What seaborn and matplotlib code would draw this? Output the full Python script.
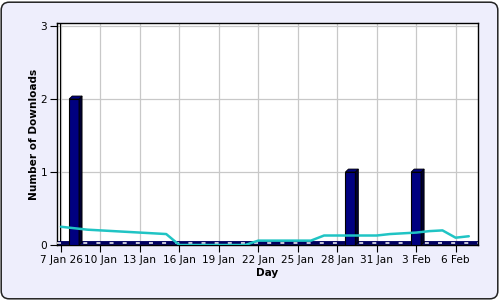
import numpy as np
import pandas as pd
import matplotlib
matplotlib.use("Agg")
import matplotlib.pyplot as plt
from matplotlib.patches import FancyBboxPatch, Polygon
import seaborn as sns

# ---- data ----
dates = pd.date_range("2026-01-07", "2026-02-07", freq="D")
downloads = [0, 2, 0, 0, 0, 0, 0, 0, 0, 0, 0, 0, 0, 0, 0, 0,
             0, 0, 0, 0, 0, 0, 1, 0, 0, 0, 0, 1, 0, 0, 0, 0]
trend = [0.25, 0.23, 0.21, 0.20, 0.19, 0.18, 0.17, 0.16, 0.15, 0.0,
         0.0, 0.0, 0.0, 0.0, 0.0, 0.06, 0.06, 0.06, 0.06, 0.06,
         0.13, 0.13, 0.13, 0.13, 0.13, 0.15, 0.16, 0.17, 0.19, 0.20,
         0.10, 0.12]
tick_labels = ["7 Jan 26", "10 Jan", "13 Jan", "16 Jan", "19 Jan", "22 Jan",
               "25 Jan", "28 Jan", "31 Jan", "3 Feb", "6 Feb"]
y_ticks = [0, 1, 2, 3]

day_idx = np.arange(len(dates))
df = pd.DataFrame({"day": day_idx, "downloads": downloads, "trend": trend})

sns.set_theme(style="white")
plt.rcParams["font.family"] = ["DejaVu Sans"]

fig = plt.figure(figsize=(5, 3), dpi=100)
fig.patch.set_facecolor("white")
bg = FancyBboxPatch((0.012, 0.012), 4.966, 2.966,
                    boxstyle="round,pad=0,rounding_size=0.08",
                    transform=fig.dpi_scale_trans, facecolor="#EEEEFC",
                    edgecolor="#222222", linewidth=1.1, zorder=-10)
fig.patches.append(bg)

ax = fig.add_axes([57 / 500, 1 - 245 / 300, 421 / 500, 222 / 300])
ax.set_facecolor("white")

sns.barplot(data=df, x="day", y="downloads", native_scale=True,
            color="#000080", saturation=1, width=0.75,
            edgecolor="black", linewidth=0.8, ax=ax, zorder=3)

# 3D side/top faces derived from drawn bars
dx, dy = 0.23, 0.04
for p in list(ax.patches):
    h = p.get_height()
    if h <= 0:
        continue
    x0 = p.get_x(); w = p.get_width()
    side = Polygon([(x0 + w, 0), (x0 + w + dx, dy), (x0 + w + dx, h + dy), (x0 + w, h)],
                   closed=True, facecolor="#000030", edgecolor="black", linewidth=0.6, zorder=3)
    top = Polygon([(x0, h), (x0 + dx, h + dy), (x0 + w + dx, h + dy), (x0 + w, h)],
                  closed=True, facecolor="#000080", edgecolor="black", linewidth=0.6, zorder=3)
    ax.add_patch(side); ax.add_patch(top)

# floor strip
ax.axhline(0.022, color="#000060", linewidth=2.8, zorder=2.5)
ax.axhline(0.026, color="white", linewidth=1.1, dashes=(2.6, 6.0), zorder=2.6)

sns.lineplot(data=df, x="day", y="trend", color="#20C4C4", linewidth=1.8,
             ax=ax, zorder=4)

ax.set_xlim(-0.3, 31.7)
ax.set_ylim(0, 3.04)
ax.set_xticks(day_idx[::3])
ax.set_xticklabels(tick_labels)
ax.set_yticks(y_ticks)
ax.grid(True, color="#C8C8C8", linewidth=0.9, zorder=0)
ax.set_axisbelow(True)
ax.axvline(0.23 - 0.3, color="black", linewidth=0.8, zorder=1)

for s in ax.spines.values():
    s.set_visible(True)
    s.set_color("black")
    s.set_linewidth(1.0)

ax.tick_params(axis="both", which="major", direction="out", length=5,
               width=0.8, color="black", labelcolor="black", labelsize=7.6,
               pad=2, left=True, bottom=True)
ax.set_xlabel("Day", fontsize=7.6, fontweight="bold", labelpad=2, color="black")
ax.set_ylabel("Number of Downloads", fontsize=7.6, fontweight="bold",
              labelpad=1, color="black")

fig.savefig("out.png", dpi=100)
